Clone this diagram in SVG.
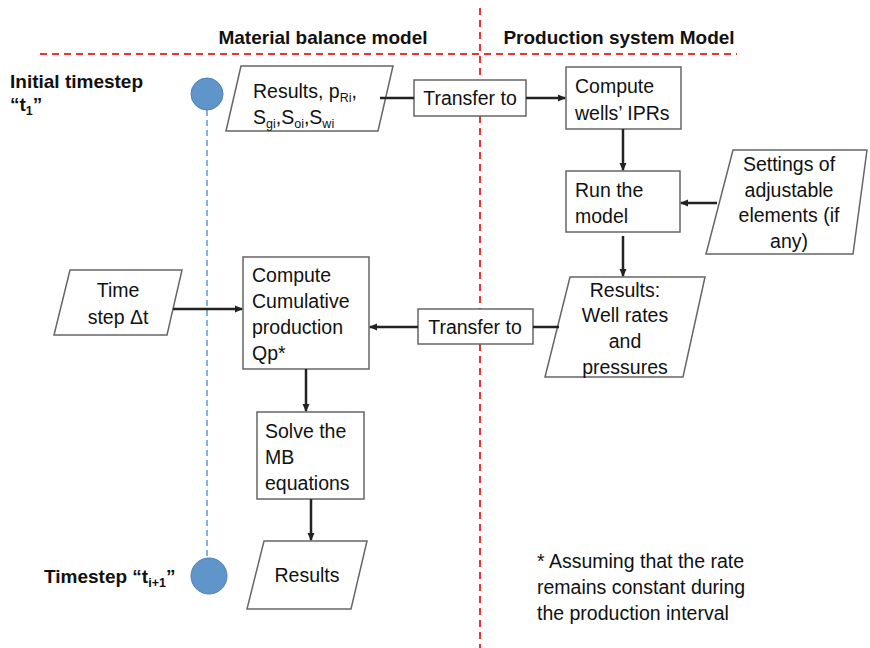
<svg xmlns="http://www.w3.org/2000/svg" width="870" height="648" viewBox="0 0 870 648">
<defs>
<marker id="ah" markerWidth="8" markerHeight="8" refX="7" refY="4" orient="auto" markerUnits="userSpaceOnUse">
<path d="M0,0.5 L8,4 L0,7.5 Z" fill="#222"/>
</marker>
<style>
text{font-family:"Liberation Sans",Arial,sans-serif;font-size:19.5px;fill:#111}
.b{font-weight:bold;font-size:19px}
.c{text-anchor:middle}
.shape{fill:#fff;stroke:#666;stroke-width:1.5}
.con{stroke:#222;stroke-width:2.5;fill:none}
.red{stroke:#ee3333;stroke-width:2;stroke-dasharray:7,5;fill:none}
.blue{stroke:#5b9bd5;stroke-width:1.5;stroke-dasharray:6,4;fill:none}
.dot{fill:#5f95c9;stroke:#4f81b8;stroke-width:1}
.sub{font-size:12.5px}
</style>
</defs>
<rect width="870" height="648" fill="#fff"/>
<g id="headers">
<text class="b c" x="323" y="44">Material balance model</text>
<text class="b c" x="619" y="44">Production system Model</text>
<line class="red" x1="40" y1="54" x2="737" y2="54"/>
<line class="red" x1="480" y1="8" x2="480" y2="648"/>
</g>
<g id="timeline">
<line class="blue" x1="207" y1="110" x2="207" y2="560"/>
</g>
<g id="initial">
<text class="b" x="10" y="88">Initial timestep</text>
<text class="b" x="10" y="111">“t<tspan class="sub" dy="4">1</tspan><tspan dy="-4">”</tspan></text>
<circle class="dot" cx="207" cy="94" r="16"/>
</g>
<g id="final">
<text class="b" x="44" y="583">Timestep “t<tspan class="sub" dy="4">i+1</tspan><tspan dy="-4">”</tspan></text>
<circle class="dot" cx="209" cy="576" r="18"/>
</g>
<g id="results-init">
<polygon class="shape" points="241,66 393,66 378,131 226,131"/>
<text x="253" y="98">Results, p<tspan class="sub" dy="4">Ri</tspan><tspan dy="-4">,</tspan></text>
<text x="253" y="124">S<tspan class="sub" dy="4">gi</tspan><tspan dy="-4">,S</tspan><tspan class="sub" dy="4">oi</tspan><tspan dy="-4">,S</tspan><tspan class="sub" dy="4">wi</tspan></text>
</g>
<g id="transfer1">
<rect class="shape" x="414" y="80" width="112" height="36"/>
<text class="c" x="470" y="105">Transfer to</text>
</g>
<g id="ipr">
<rect class="shape" x="566" y="67" width="115" height="62"/>
<text x="575" y="93">Compute</text>
<text x="575" y="120">wells’ IPRs</text>
</g>
<g id="run">
<rect class="shape" x="566" y="171" width="114" height="61"/>
<text x="575" y="197">Run the</text>
<text x="575" y="223">model</text>
</g>
<g id="settings">
<polygon class="shape" points="733,150 867,150 853,254 706,254"/>
<text class="c" x="789" y="171">Settings of</text>
<text class="c" x="789" y="197">adjustable</text>
<text class="c" x="789" y="222">elements (if</text>
<text class="c" x="789" y="248">any)</text>
</g>
<g id="results-wells">
<polygon class="shape" points="570,277 705,277 683,377 545,377"/>
<text class="c" x="625" y="297">Results:</text>
<text class="c" x="625" y="322">Well rates</text>
<text class="c" x="625" y="348">and</text>
<text class="c" x="625" y="374">pressures</text>
</g>
<g id="transfer2">
<rect class="shape" x="418" y="309" width="115" height="35"/>
<text class="c" x="475" y="334">Transfer to</text>
</g>
<g id="cumulative">
<rect class="shape" x="243" y="257" width="126" height="112"/>
<text x="252" y="282">Compute</text>
<text x="252" y="308">Cumulative</text>
<text x="252" y="334">production</text>
<text x="252" y="360">Qp*</text>
</g>
<g id="timestep">
<polygon class="shape" points="70,270 182,270 167,335 54,335"/>
<text class="c" x="118" y="297">Time</text>
<text class="c" x="118" y="324">step Δt</text>
</g>
<g id="solve">
<rect class="shape" x="257" y="412" width="107" height="87"/>
<text x="265" y="438">Solve the</text>
<text x="265" y="464">MB</text>
<text x="265" y="490">equations</text>
</g>
<g id="results-final">
<polygon class="shape" points="264,541 367,541 351,609 247,609"/>
<text class="c" x="307" y="582">Results</text>
</g>
<g id="note">
<text x="537" y="568">* Assuming that the rate</text>
<text x="537" y="594">remains constant during</text>
<text x="537" y="620">the production interval</text>
</g>
<g id="connectors">
<line class="con" x1="380" y1="98" x2="414" y2="98"/>
<line class="con" x1="526" y1="98" x2="565" y2="98" marker-end="url(#ah)"/>
<line class="con" x1="623" y1="129" x2="623" y2="170" marker-end="url(#ah)"/>
<line class="con" x1="717" y1="203" x2="681" y2="203" marker-end="url(#ah)"/>
<line class="con" x1="623" y1="236" x2="623" y2="276" marker-end="url(#ah)"/>
<line class="con" x1="559" y1="327" x2="533" y2="327"/>
<line class="con" x1="418" y1="327" x2="370" y2="327" marker-end="url(#ah)"/>
<line class="con" x1="173" y1="309" x2="242" y2="309" marker-end="url(#ah)"/>
<line class="con" x1="306" y1="369" x2="306" y2="411" marker-end="url(#ah)"/>
<line class="con" x1="311" y1="499" x2="311" y2="540" marker-end="url(#ah)"/>
</g>
</svg>
